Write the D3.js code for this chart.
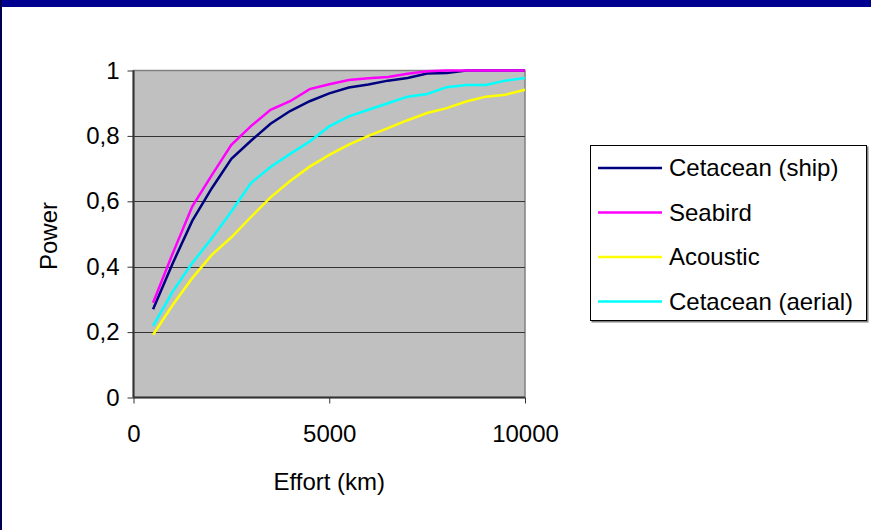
<!DOCTYPE html>
<html>
<head>
<meta charset="utf-8">
<script src="https://cdn.jsdelivr.net/npm/d3@7"></script>
<style>
  body { margin: 0; background: #fff; }
  text { font-family: "Liberation Sans", Arial, sans-serif; fill: #000; }
</style>
</head>
<body>
<div class="canvas"></div>
<script>
// effort (km) at each step
const effort = [500, 1000, 1500, 2000, 2500, 3000, 3500, 4000, 4500, 5000,
    5500, 6000, 6500, 7000, 7500, 8000, 8500, 9000, 9500, 10000];

const cetaceanShip = [0.27, 0.41, 0.54, 0.64, 0.73, 0.785, 0.837, 0.876, 0.906, 0.93,
    0.948, 0.957, 0.969, 0.977, 0.991, 0.992, 1, 1, 1, 1];
const seabird = [0.29, 0.44, 0.584, 0.68, 0.773, 0.83, 0.88, 0.906, 0.943, 0.958,
    0.971, 0.976, 0.98, 0.99, 0.998, 1, 1, 1, 1, 1];
const acoustic = [0.192, 0.283, 0.365, 0.436, 0.49, 0.552, 0.612, 0.662, 0.706, 0.742,
    0.773, 0.8, 0.824, 0.848, 0.87, 0.885, 0.905, 0.92, 0.926, 0.941];
const cetaceanAerial = [0.219, 0.324, 0.411, 0.487, 0.569, 0.656, 0.705, 0.745, 0.783, 0.829,
    0.86, 0.88, 0.9, 0.92, 0.928, 0.949, 0.956, 0.956, 0.969, 0.977];

const seriesNames = ['Cetacean (ship)', 'Seabird', 'Acoustic', 'Cetacean (aerial)'];
const seriesColours = ['#000080', '#ff00ff', '#ffff00', '#00ffff'];
const xTicks = [0, 5000, 10000];
const yTicks = [0, 0.2, 0.4, 0.6, 0.8, 1];

const series = [cetaceanShip, seabird, acoustic, cetaceanAerial];

const dims = { width: 871, height: 530 };
const plot = { left: 133.5, right: 525, top: 70.5, bottom: 397.5 };

const svg = d3.select('.canvas')
    .append('svg')
    .attr('width', dims.width)
    .attr('height', dims.height)
;

// slide frame
svg.append('rect').attr('x', 0).attr('y', 0).attr('width', dims.width).attr('height', 7).attr('fill', '#000090');
svg.append('rect').attr('x', 0).attr('y', 0).attr('width', 2).attr('height', dims.height).attr('fill', '#000050');

const x = d3.scaleLinear().domain([0, 10000]).range([plot.left, plot.right]);
const y = d3.scaleLinear().domain([0, 1]).range([plot.bottom, plot.top]);

// plot area
svg.append('rect')
    .attr('x', plot.left)
    .attr('y', plot.top)
    .attr('width', plot.right - plot.left)
    .attr('height', plot.bottom - plot.top)
    .attr('fill', '#c0c0c0')
    .attr('stroke', '#808080')
    .attr('stroke-width', 1.5)
;

// gridlines
svg.append('g')
    .selectAll('line')
    .data(yTicks.filter(d => d > 0 && d < 1))
    .enter()
    .append('line')
        .attr('x1', plot.left)
        .attr('x2', plot.right)
        .attr('y1', d => Math.round(y(d)) + 0.5)
        .attr('y2', d => Math.round(y(d)) + 0.5)
        .attr('stroke', '#333')
        .attr('stroke-width', 1)
;

// axes
const xAxis = svg.append('g')
    .attr('transform', `translate(0, ${plot.bottom})`)
    .call(d3.axisBottom(x).tickValues(xTicks).tickSize(6).tickPadding(21).tickFormat(d3.format('d')));
const yAxis = svg.append('g')
    .attr('transform', `translate(${plot.left}, 0)`)
    .call(d3.axisLeft(y).tickValues(yTicks).tickSize(6).tickPadding(8)
        .tickFormat(d => d === 0 || d === 1 ? String(d) : String(d).replace('.', ',')));

[xAxis, yAxis].forEach(a => {
    a.select('.domain').attr('stroke', '#333').attr('stroke-width', 2);
    a.selectAll('.tick line').attr('stroke', '#333');
    a.selectAll('.tick text')
        .attr('font-family', '"Liberation Sans", Arial, sans-serif')
        .attr('font-size', 24)
        .attr('fill', '#000');
});
xAxis.select('.domain').attr('d', `M${plot.left},0H${plot.right}`);
yAxis.select('.domain').attr('d', `M0,${plot.bottom}V${plot.top}`);

// lines
const line = d3.line()
    .x((d, i) => x(effort[i]))
    .y(d => y(d))
;

svg.append('g')
    .selectAll('path')
    .data(series)
    .enter()
    .append('path')
        .attr('d', line)
        .attr('fill', 'none')
        .attr('stroke', (d, i) => seriesColours[i])
        .attr('stroke-width', 2.5)
;

// axis titles
svg.append('text')
    .attr('x', (plot.left + plot.right) / 2)
    .attr('y', 490)
    .attr('text-anchor', 'middle')
    .attr('font-size', 24)
    .text('Effort (km)');

svg.append('text')
    .attr('transform', `translate(57, ${(plot.top + plot.bottom) / 2 + 2}) rotate(-90)`)
    .attr('text-anchor', 'middle')
    .attr('font-size', 24)
    .text('Power');

// legend
const legend = svg.append('g').attr('transform', 'translate(590, 145)');
legend.append('rect')
    .attr('x', 1.5).attr('y', 1.5).attr('width', 277).attr('height', 176)
    .attr('fill', '#808080');
legend.append('rect')
    .attr('x', 0.5).attr('y', 0.5).attr('width', 276).attr('height', 175)
    .attr('fill', '#fff').attr('stroke', '#000').attr('stroke-width', 1);

const items = legend.selectAll('g.item')
    .data(seriesNames)
    .enter()
    .append('g')
        .attr('class', 'item')
        .attr('transform', (d, i) => `translate(0, ${23 + i * 44.5})`)
;
items.append('line')
    .attr('x1', 8).attr('x2', 72)
    .attr('stroke', (d, i) => seriesColours[i])
    .attr('stroke-width', 2.5);
items.append('text')
    .attr('x', 79)
    .attr('dy', '0.35em')
    .attr('font-size', 24)
    .text(d => d);
</script>
</body>
</html>
